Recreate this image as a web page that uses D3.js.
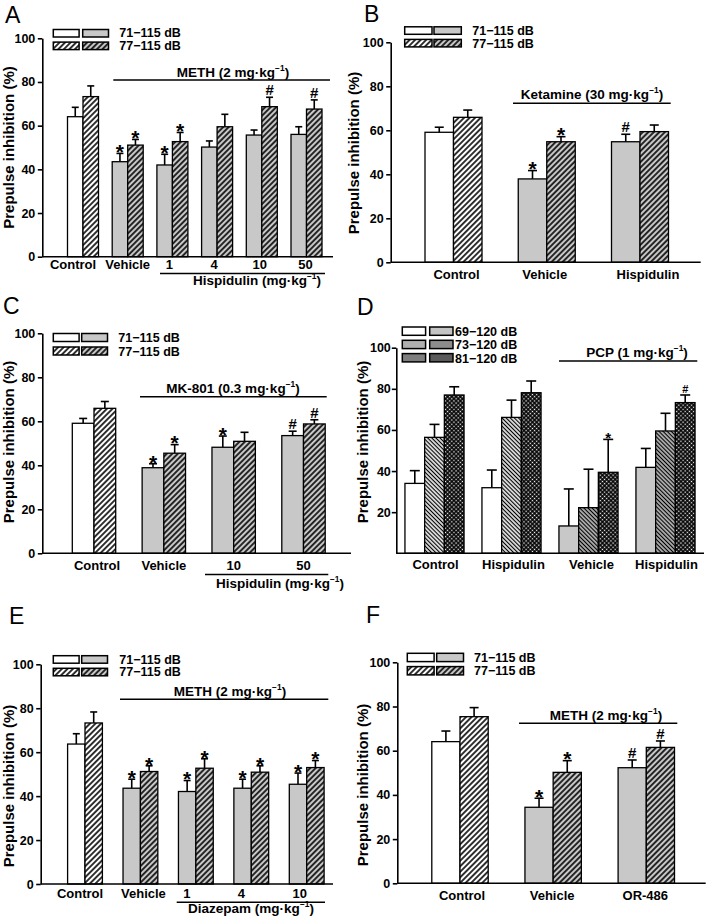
<!DOCTYPE html>
<html><head><meta charset="utf-8">
<script src="https://cdn.jsdelivr.net/npm/d3@7"></script>
<style>
body{margin:0;background:#fff}
svg{display:block;font-weight:bold}
text{font-family:"Liberation Sans",Arial,sans-serif;fill:#000}
</style>
</head><body>
<svg id="fig" width="709" height="917"></svg>
<script>
// ---------------- DATA ----------------
const yTicks = [0, 20, 40, 60, 80, 100];
const dTicks = [20, 40, 60, 80, 100];
const twoLevelLabels = ["71−115 dB", "77−115 dB"];
const dLevelLabels = ["69−120 dB", "73−120 dB", "81−120 dB"];

// Panel A
const aGroups = ["Control", "Vehicle", "1", "4", "10", "50"];
const aLow = [64.1, 43.5, 42.0, 50.2, 55.7, 56.0];
const aLowErr = [4.3, 3.8, 4.9, 2.8, 2.3, 3.5];
const aHigh = [73.3, 51.1, 52.7, 59.5, 68.7, 67.6];
const aHighErr = [4.9, 2.6, 4.2, 5.7, 4.3, 4.2];
const aLowSig = ["", "*", "*", "", "", ""];
const aHighSig = ["", "*", "*", "", "#", "#"];

// Panel B
const bGroups = ["Control", "Vehicle", "Hispidulin"];
const bLow = [59.1, 37.9, 54.8];
const bLowErr = [2.3, 3.8, 3.4];
const bHigh = [65.9, 54.8, 59.4];
const bHighErr = [3.3, 2.3, 3.0];
const bLowSig = ["", "*", "#"];
const bHighSig = ["", "*", ""];

// Panel C
const cGroups = ["Control", "Vehicle", "10", "50"];
const cLow = [59.1, 38.9, 48.2, 53.5];
const cLowErr = [2.2, 1.8, 5.1, 2.0];
const cHigh = [65.9, 45.5, 50.9, 58.8];
const cHighErr = [3.1, 3.9, 4.1, 1.9];
const cLowSig = ["", "*", "*", "#"];
const cHighSig = ["", "*", "", "#"];

// Panel D
const dGroups = ["Control", "Hispidulin", "Vehicle", "Hispidulin"];
const d69 = [34.0, 31.9, 13.3, 41.8];
const d69Err = [6.2, 8.6, 18.0, 9.2];
const d73 = [56.4, 66.1, 22.2, 59.5];
const d73Err = [6.3, 8.4, 18.7, 8.6];
const d81 = [77.0, 78.1, 39.4, 73.3];
const d81Err = [4.0, 5.7, 16.0, 3.7];
const d81Sig = ["", "", "*", "#"];

// Panel E
const eGroups = ["Control", "Vehicle", "1", "4", "10"];
const eLow = [63.7, 43.6, 42.1, 43.6, 45.4];
const eLowErr = [4.7, 4.1, 5.0, 4.1, 5.1];
const eHigh = [73.3, 51.2, 52.7, 50.9, 53.0];
const eHighErr = [5.0, 2.6, 4.3, 2.9, 3.2];
const eLowSig = ["", "*", "*", "*", "*"];
const eHighSig = ["", "*", "*", "*", "*"];

// Panel F
const fGroups = ["Control", "Vehicle", "OR-486"];
const fLow = [64.1, 34.4, 52.3];
const fLowErr = [4.8, 4.1, 3.5];
const fHigh = [75.4, 50.2, 61.5];
const fHighErr = [4.1, 5.3, 2.9];
const fLowSig = ["", "*", "#"];
const fHighSig = ["", "*", "#"];

// ---------------- STYLE ----------------
const GRAY = "#c8c8c8";
const svg = d3.select("#fig");
const defs = svg.append("defs");
function hatch(id, bg, angle, period, sw) {
  const p = defs.append("pattern").attr("id", id).attr("patternUnits", "userSpaceOnUse")
    .attr("width", period).attr("height", period).attr("patternTransform", `rotate(${angle})`);
  p.append("rect").attr("width", period).attr("height", period).attr("fill", bg);
  p.append("line").attr("x1", period / 2).attr("x2", period / 2).attr("y1", -1).attr("y2", period + 1)
    .attr("stroke", "#000").attr("stroke-width", sw);
}
hatch("fwdW", "#fff", 45, 3.9, 1.6);
hatch("fwdG", GRAY, 45, 3.9, 1.6);
hatch("bakW", "#fff", -45, 2.9, 1.3);
hatch("bakG", GRAY, -45, 2.9, 1.3);
(function () {
  const p = defs.append("pattern").attr("id", "cross").attr("patternUnits", "userSpaceOnUse")
    .attr("width", 3).attr("height", 3).attr("patternTransform", "rotate(45)");
  p.append("rect").attr("width", 3).attr("height", 3).attr("fill", "#000");
  p.append("rect").attr("x", 0.8).attr("y", 0.8).attr("width", 1.4).attr("height", 1.4).attr("fill", "#fff");
})();

const twoLegendRows = [["#fff", GRAY], ["url(#fwdW)", "url(#fwdG)"]];
const dLegendRows = [["#fff", "#c4c4c4"], ["#b0b0b0", "#8c8c8c"], ["#7e7e7e", "#5a5a5a"]];

function twoSeries(lo, loE, loS, hi, hiE, hiS) {
  return [
    { v: lo, e: loE, s: loS, fill: ["#fff", GRAY] },
    { v: hi, e: hiE, s: hiS, fill: ["url(#fwdW)", "url(#fwdG)"] }
  ];
}

const panels = [
  { letter: "A", lp: [5, 22.7], axX: [42.3, 333], axY: [256.7, 38.3], cx: [83, 306.5], barW: 15.5, cap: 7,
    groups: aGroups, labelDx: [-10, 0, -3, -3, -2, -1], nControl: 1, ticks: yTicks, tickPad: 2.5,
    series: twoSeries(aLow, aLowErr, aLowSig, aHigh, aHighErr, aHighSig),
    legend: { rows: twoLegendRows, labels: twoLevelLabels, bx: [53.3, 82.7], bw: 25.8, bh: 7.5, by: 29.5, step: 12.6, tx: 119.3, tb: 7.8 },
    title: [13.5, 147.5], labelY: 269,
    annots: [{ x1: 113.3, x2: 330, y: 80, tx: 233, ty: 76.5, t: "METH (2 mg·kg" }],
    subs: [{ x1: 160, x2: 325, y: 273.5, tx: 257, ty: 284.5, t: "Hispidulin (mg·kg" }],
    star: 21, hash: 15 },
  { letter: "B", lp: [364, 21.7], axX: [390.7, 700.7], axY: [262.3, 42.3], cx: [453.5, 640], barW: 28.5, cap: 9,
    groups: bGroups, labelDx: [3, -2, 8], nControl: 1, ticks: yTicks, tickPad: 2.5,
    series: twoSeries(bLow, bLowErr, bLowSig, bHigh, bHighErr, bHighSig),
    legend: { rows: twoLegendRows, labels: twoLevelLabels, bx: [404.7, 434], bw: 27.3, bh: 7.5, by: 26.8, step: 12.6, tx: 472.3, tb: 8.3 },
    title: [358.5, 153], labelY: 278.5,
    annots: [{ x1: 513, x2: 670.7, y: 103.3, tx: 592, ty: 98.5, t: "Ketamine (30 mg·kg" }],
    subs: [], star: 21, hash: 15 },
  { letter: "C", lp: [3, 314], axX: [42.3, 351], axY: [553.3, 333.3], cx: [94, 303.5], barW: 21.7, cap: 8,
    groups: cGroups, labelDx: [3, 0, 0, 0], nControl: 1, ticks: yTicks, tickPad: 2.5,
    series: twoSeries(cLow, cLowErr, cLowSig, cHigh, cHighErr, cHighSig),
    legend: { rows: twoLegendRows, labels: twoLevelLabels, bx: [53.3, 81.7], bw: 25.8, bh: 8, by: 333.5, step: 13.5, tx: 118.3, tb: 8.8 },
    title: [13.5, 442], labelY: 570,
    annots: [{ x1: 140, x2: 326.7, y: 396.7, tx: 233, ty: 393, t: "MK-801 (0.3 mg·kg" }],
    subs: [{ x1: 205, x2: 328.3, y: 574.5, tx: 280, ty: 588, t: "Hispidulin (mg·kg" }],
    star: 21, hash: 15 },
  { letter: "D", lp: [357, 315], axX: [396.3, 704], axY: [553.3, 347.7], cx: [434.5, 665.5], barW: 19.7, cap: 10,
    groups: dGroups, labelDx: [1, 2, 3, 1], nControl: 2, ticks: dTicks, tickPad: 1,
    series: [
      { v: d69, e: d69Err, s: null, fill: ["#fff", GRAY] },
      { v: d73, e: d73Err, s: null, fill: ["url(#bakW)", "url(#bakG)"] },
      { v: d81, e: d81Err, s: d81Sig, fill: ["url(#cross)", "url(#cross)"] }
    ],
    legend: { rows: dLegendRows, labels: dLevelLabels, bx: [402.3, 429.7], bw: 23.3, bh: 8.3, by: 327, step: 13.3, tx: 455, tb: 9 },
    title: [368, 442], labelY: 568.5,
    annots: [{ x1: 559, x2: 697.3, y: 361, tx: 637, ty: 356.5, t: "PCP (1 mg·kg" }],
    subs: [], star: 15, hash: 11 },
  { letter: "E", lp: [9, 624], axX: [40.7, 333], axY: [884, 664.3], cx: [85, 306.7], barW: 17.4, cap: 7,
    groups: eGroups, labelDx: [-5, 3, -9, -10, -7], nControl: 1, ticks: yTicks, tickPad: 2.5,
    series: twoSeries(eLow, eLowErr, eLowSig, eHigh, eHighErr, eHighSig),
    legend: { rows: twoLegendRows, labels: twoLevelLabels, bx: [53.3, 81.7], bw: 25.8, bh: 7.5, by: 655.7, step: 12.6, tx: 119.3, tb: 7.8 },
    title: [13.5, 786], labelY: 897.5,
    annots: [{ x1: 120, x2: 328.3, y: 699.3, tx: 230, ty: 696, t: "METH (2 mg·kg" }],
    subs: [{ x1: 176.7, x2: 325, y: 902.3, tx: 251, ty: 912.5, t: "Diazepam (mg·kg" }],
    star: 21, hash: 15 },
  { letter: "F", lp: [366, 623], axX: [397.3, 705.7], axY: [883.3, 662.3], cx: [460, 646.3], barW: 28.2, cap: 9,
    groups: fGroups, labelDx: [2, -1, -1], nControl: 1, ticks: yTicks, tickPad: 2.5,
    series: twoSeries(fLow, fLowErr, fLowSig, fHigh, fHighErr, fHighSig),
    legend: { rows: twoLegendRows, labels: twoLevelLabels, bx: [407.3, 436.7], bw: 26.8, bh: 8.3, by: 653.3, step: 13.3, tx: 474, tb: 8.4 },
    title: [367.5, 785], labelY: 899.5,
    annots: [{ x1: 519, x2: 677.3, y: 723.3, tx: 606, ty: 720, t: "METH (2 mg·kg" }],
    subs: [], star: 21, hash: 15 }
];

const FS = { tick: 12.5, cat: 13, legend: 12.5, legendD: 12.5, annot: 13.5, title: 15, letter: 23 };

function supText(g, x, y, base, size) {
  const t = g.append("text").attr("x", x).attr("y", y).attr("text-anchor", "middle").attr("font-size", size);
  t.append("tspan").text(base);
  t.append("tspan").attr("font-size", size * 0.62).attr("dy", -size * 0.42).text("−1");
  t.append("tspan").attr("dy", size * 0.42).text(")");
}

function drawPanel(P) {
  const g = svg.append("g");
  const y = d3.scaleLinear().domain([0, 100]).range(P.axY);
  const x = d3.scalePoint().domain(d3.range(P.groups.length)).range(P.cx);
  const nS = P.series.length;
  const sub = d3.scaleBand().domain(d3.range(nS)).range([-nS * P.barW / 2, nS * P.barW / 2]);

  P.series.forEach((s, si) => {
    const data = s.v.map((v, i) => ({ i, v, e: s.e[i], sig: s.s ? s.s[i] : "" }));
    const sg = g.append("g");
    const mid = d => x(d.i) + sub(si) + sub.bandwidth() / 2;
    sg.selectAll("line.eb").data(data).join("line").attr("class", "eb")
      .attr("x1", mid).attr("x2", mid).attr("y1", d => y(d.v)).attr("y2", d => y(d.v + d.e))
      .attr("stroke", "#000").attr("stroke-width", 1.6);
    sg.selectAll("line.cap").data(data).join("line").attr("class", "cap")
      .attr("x1", d => mid(d) - P.cap / 2).attr("x2", d => mid(d) + P.cap / 2)
      .attr("y1", d => y(d.v + d.e)).attr("y2", d => y(d.v + d.e))
      .attr("stroke", "#000").attr("stroke-width", 1.6);
    sg.selectAll("rect").data(data).join("rect")
      .attr("x", d => x(d.i) + sub(si)).attr("width", sub.bandwidth())
      .attr("y", d => y(d.v)).attr("height", d => y(0) - y(d.v))
      .attr("fill", d => d.i < P.nControl ? s.fill[0] : s.fill[1])
      .attr("stroke", "#000").attr("stroke-width", 1.3);
    sg.selectAll("text.sig").data(data.filter(d => d.sig)).join("text").attr("class", "sig")
      .attr("x", mid).attr("text-anchor", "middle")
      .attr("font-size", d => d.sig === "*" ? P.star : P.hash)
      .attr("y", d => d.sig === "*" ? y(d.v + d.e) + 0.37 * P.star - 2 : y(d.v + d.e) - 2)
      .text(d => d.sig);
  });

  // axes
  const ax = g.append("g").attr("transform", `translate(${P.axX[0]},0)`)
    .call(d3.axisLeft(y).tickValues(P.ticks).tickSize(4.5).tickSizeOuter(0).tickPadding(P.tickPad));
  ax.select(".domain").attr("stroke-width", 1.6);
  ax.selectAll(".tick line").attr("stroke-width", 1.6);
  ax.selectAll(".tick text").attr("font-size", FS.tick).attr("fill", "#000");
  g.append("line").attr("x1", P.axX[0]).attr("x2", P.axX[1]).attr("y1", y(0)).attr("y2", y(0))
    .attr("stroke", "#000").attr("stroke-width", 1.6);

  // category labels
  g.selectAll("text.cat").data(P.groups).join("text").attr("class", "cat")
    .attr("x", (d, i) => x(i) + P.labelDx[i]).attr("y", P.labelY).attr("text-anchor", "middle").attr("font-size", FS.cat)
    .text(d => d);

  // y title
  g.append("text").attr("transform", `translate(${P.title[0]},${P.title[1]}) rotate(-90)`)
    .attr("text-anchor", "middle").attr("font-size", FS.title).text("Prepulse inhibition (%)");

  // panel letter
  g.append("text").attr("x", P.lp[0]).attr("y", P.lp[1]).attr("font-size", FS.letter).attr("font-weight", "normal").text(P.letter);

  // legend
  const L = P.legend;
  const lfs = L.rows.length > 2 ? FS.legendD : FS.legend;
  L.rows.forEach((row, ri) => {
    row.forEach((f, ci) => {
      g.append("rect").attr("x", L.bx[ci]).attr("y", L.by + ri * L.step).attr("width", L.bw).attr("height", L.bh)
        .attr("fill", f).attr("stroke", "#000").attr("stroke-width", 1.5);
    });
    g.append("text").attr("x", L.tx).attr("y", L.by + ri * L.step + L.tb).attr("font-size", lfs).text(L.labels[ri]);
  });

  // annotations
  P.annots.concat(P.subs).forEach(a => {
    g.append("line").attr("x1", a.x1).attr("x2", a.x2).attr("y1", a.y).attr("y2", a.y)
      .attr("stroke", "#000").attr("stroke-width", 1.5);
    supText(g, a.tx, a.ty, a.t, FS.annot);
  });
}
panels.forEach(drawPanel);
</script>
</body></html>
